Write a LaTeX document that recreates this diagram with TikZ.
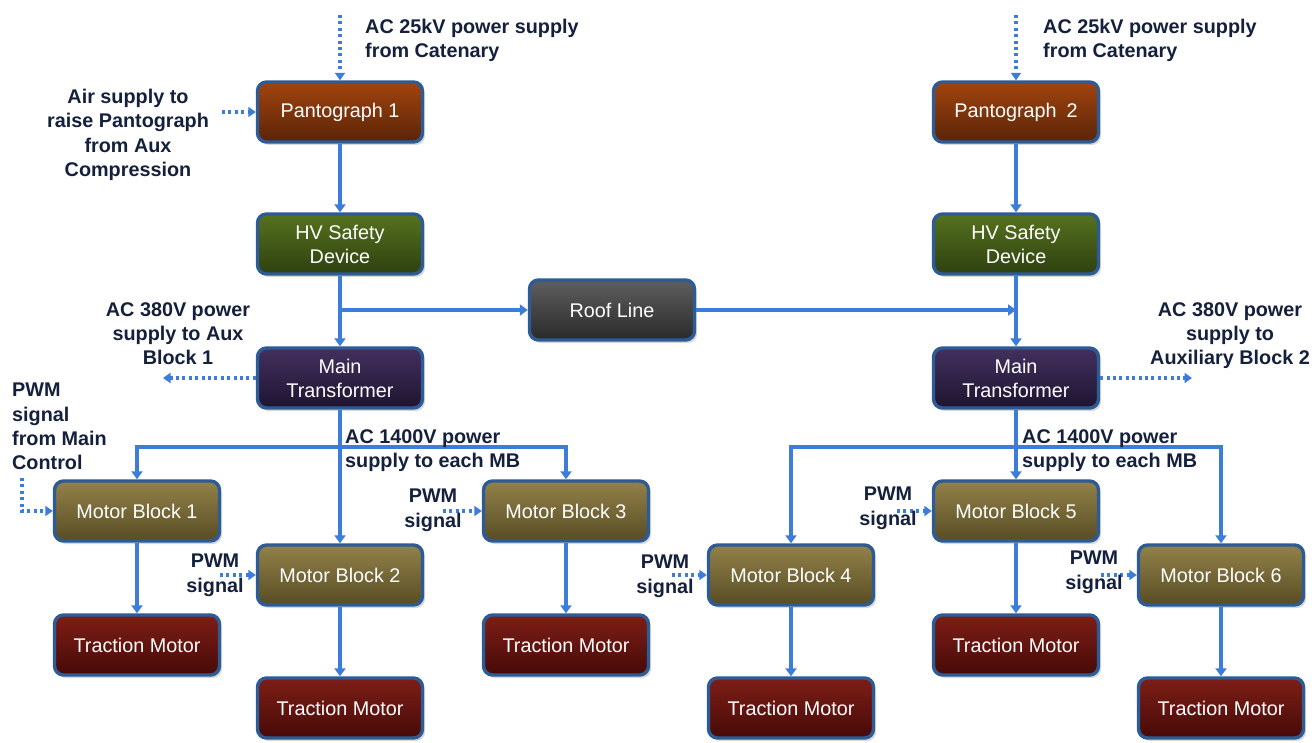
\documentclass[tikz,border=0pt]{standalone}
\usepackage{fontspec}
\setmainfont{Liberation Sans}
\usetikzlibrary{arrows.meta,shadows}

\definecolor{wire}{HTML}{3B7DD8}
\definecolor{rim}{HTML}{2D5B96}
\definecolor{ink}{HTML}{14203C}
\definecolor{pantoT}{HTML}{A2440E}
\definecolor{pantoB}{HTML}{5A2408}
\definecolor{hvT}{HTML}{56721E}
\definecolor{hvB}{HTML}{2E4010}
\definecolor{roofT}{HTML}{5E5E5E}
\definecolor{roofB}{HTML}{2A2A2A}
\definecolor{xfT}{HTML}{43305E}
\definecolor{xfB}{HTML}{1E1430}
\definecolor{mbT}{HTML}{928249}
\definecolor{mbB}{HTML}{584C24}
\definecolor{tmT}{HTML}{7E1E16}
\definecolor{tmB}{HTML}{460A08}

\tikzset{
  blk/.style={rounded corners=9pt, draw=rim, line width=3.4pt,
    minimum width=165pt, minimum height=60pt, inner sep=2pt,
    text=white, align=center, font=\fontsize{19.8}{24}\selectfont,
    drop shadow={opacity=0.3, shadow xshift=2.5pt, shadow yshift=-3pt}},
  panto/.style={blk, top color=pantoT, bottom color=pantoB},
  hvdev/.style={blk, top color=hvT, bottom color=hvB},
  roofbox/.style={blk, top color=roofT, bottom color=roofB},
  xfmr/.style={blk, top color=xfT, bottom color=xfB},
  mblk/.style={blk, top color=mbT, bottom color=mbB},
  trac/.style={blk, top color=tmT, bottom color=tmB},
  feed/.style={draw=wire, line width=3.4pt, -{Triangle[width=11pt,length=8pt]}},
  sig/.style={draw=wire, line width=3.4pt, dash pattern=on 3pt off 3.4pt,
    -{Triangle[width=10pt,length=7.5pt]}},
  lbl/.style={text=ink, inner sep=0pt, font=\bfseries\fontsize{19.8}{24.3}\selectfont},
}

\begin{document}
\begin{tikzpicture}[x=1pt,y=-1pt]
\path[use as bounding box, fill=white] (0,0) rectangle (1316,743);

% supply chain, left car
\node[panto] (p1) at (340,112) {Pantograph 1};
\node[hvdev] (h1) at (340,244) {HV Safety\\Device};
\node[xfmr] (t1) at (340,378) {Main\\Transformer};
% supply chain, right car
\node[panto] (p2) at (1016,112) {Pantograph\enspace 2};
\node[hvdev] (h2) at (1016,244) {HV Safety\\Device};
\node[xfmr] (t2) at (1016,378) {Main\\Transformer};
% roof line linking both cars
\node[roofbox] (roof) at (612,310) {Roof Line};

% motor blocks
\node[mblk] (m1) at (137,511) {Motor Block 1};
\node[mblk] (m2) at (340,575) {Motor Block 2};
\node[mblk] (m3) at (566,511) {Motor Block 3};
\node[mblk] (m4) at (791,575) {Motor Block 4};
\node[mblk] (m5) at (1016,511) {Motor Block 5};
\node[mblk] (m6) at (1221,575) {Motor Block 6};

% traction motors
\node[trac] (tm1) at (137,645) {Traction Motor};
\node[trac] (tm2) at (340,708) {Traction Motor};
\node[trac] (tm3) at (566,645) {Traction Motor};
\node[trac] (tm4) at (791,708) {Traction Motor};
\node[trac] (tm5) at (1016,645) {Traction Motor};
\node[trac] (tm6) at (1221,708) {Traction Motor};

% free ends and junctions
\coordinate (c1) at (340,15);
\coordinate (c2) at (1016,15);
\coordinate (a1) at (222,112);
\coordinate (x1) at (163,378);
\coordinate (x2) at (1192,378);
\coordinate (j1) at (340,310);
\coordinate (j2) at (1016,310);
\coordinate (b1) at (340,447);
\coordinate (b2) at (1016,447);
\coordinate (q0) at (22,478);
\coordinate (s2) at (220,575);
\coordinate (s3) at (443,511);
\coordinate (s4) at (672,575);
\coordinate (s5) at (897,511);
\coordinate (s6) at (1101,575);

% power path
\draw[feed] (p1) -- (h1);
\draw[feed] (h1) -- (t1);
\draw[feed] (j1) -- (roof.west);
\draw[feed] (roof.east) -- (j2);
\draw[feed] (p2) -- (h2);
\draw[feed] (h2) -- (t2);

\draw[feed] (t1) -- (m2);
\draw[feed] (b1) -| (m1.north);
\draw[feed] (b1) -| (m3.north);
\draw[feed] (t2) -- (m5);
\draw[feed] (b2) -| (m4.north);
\draw[feed] (b2) -| (m6.north);

\draw[feed] (m1) -- (tm1);
\draw[feed] (m2) -- (tm2);
\draw[feed] (m3) -- (tm3);
\draw[feed] (m4) -- (tm4);
\draw[feed] (m5) -- (tm5);
\draw[feed] (m6) -- (tm6);

% external supplies and signals
\draw[sig] (c1) -- (p1.north);
\draw[sig] (c2) -- (p2.north);
\draw[sig] (a1) -- (p1.west);
\draw[sig] (t1.west) -- (x1);
\draw[sig] (t2.east) -- (x2);
\draw[sig] (q0) |- (m1.west);
\draw[sig] (s2) -- (m2.west);
\draw[sig] (s3) -- (m3.west);
\draw[sig] (s4) -- (m4.west);
\draw[sig] (s5) -- (m5.west);
\draw[sig] (s6) -- (m6.west);

% labels
\node[lbl, anchor=north west, align=left] (lc1) at (365,19) {AC 25kV power supply\\from Catenary};
\node[lbl, anchor=north west, align=left] (lc2) at (1043,19) {AC 25kV power supply\\from Catenary};
\node[lbl, anchor=north, align=center] (lair) at (128,89) {Air supply to\\raise Pantograph\\from Aux\\Compression};
\node[lbl, anchor=north, align=center] (lx1) at (178,302) {AC 380V power\\supply to Aux\\Block 1};
\node[lbl, anchor=north, align=center] (lx2) at (1230,302) {AC 380V power\\supply to\\Auxiliary Block 2};
\node[lbl, anchor=north west, align=left] (lq0) at (12,383) {PWM\\signal\\from Main\\Control};
\node[lbl, anchor=north west, align=left] (lb1) at (345,429) {AC 1400V power\\supply to each MB};
\node[lbl, anchor=north west, align=left] (lb2) at (1022,429) {AC 1400V power\\supply to each MB};
\node[lbl, anchor=north, align=center] (ls2) at (215,554) {PWM\\signal};
\node[lbl, anchor=north, align=center] (ls3) at (433,489) {PWM\\signal};
\node[lbl, anchor=north, align=center] (ls4) at (665,555) {PWM\\signal};
\node[lbl, anchor=north, align=center] (ls5) at (888,487) {PWM\\signal};
\node[lbl, anchor=north, align=center] (ls6) at (1094,551) {PWM\\signal};
\end{tikzpicture}
\end{document}
